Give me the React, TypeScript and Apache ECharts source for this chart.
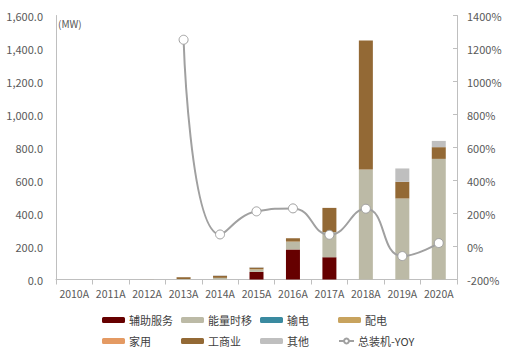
import React, { useEffect, useRef } from "react";
import * as echarts from "echarts";

const categories = ["2010A", "2011A", "2012A", "2013A", "2014A", "2015A", "2016A", "2017A", "2018A", "2019A", "2020A"];
const fuzhu = [0, 0, 0, 0, 0, 46, 182, 135, 0, 0, 0];
const nengliang = [0, 0, 0.5, 3, 10, 14, 46, 153, 667, 491, 731];
const shudian = [0, 0, 0, 0, 0, 0, 0, 0, 0, 0, 0];
const peidian = [0, 0, 0, 0, 0, 2, 2, 0, 0, 0, 0];
const jiayong = [0, 0, 0, 0, 0, 0, 0, 0, 0, 0, 0];
const gongshang = [0, 0, 0.3, 11, 12, 10, 20, 146, 781, 101, 71];
const qita = [0, 0, 0.3, 0.5, 3, 4, 0, 0, 0, 81, 38];
const yoy: (number | null)[] = [null, null, null, 1253, 73, 213, 231, 71, 229, -58, 21];
const leftTicks = { min: 0, max: 1600, interval: 200 };
const rightTicks = { min: -200, max: 1400, interval: 200 };

const FONT = "Noto Sans CJK SC";

export default function App() {
  const ref = useRef<HTMLDivElement>(null);
  useEffect(() => {
    document.body.style.margin = "0";
    const chart = echarts.init(ref.current!, null, { renderer: "svg" });
    const barSeries = [
      { name: "辅助服务", data: fuzhu, color: "#660000" },
      { name: "能量时移", data: nengliang, color: "#BCBAA6" },
      { name: "输电", data: shudian, color: "#3A8AA0" },
      { name: "配电", data: peidian, color: "#C8A35E" },
      { name: "家用", data: jiayong, color: "#E49A63" },
      { name: "工商业", data: gongshang, color: "#936935" },
      { name: "其他", data: qita, color: "#BFBFBF" },
    ].map((s) => ({
      name: s.name,
      type: "bar",
      stack: "total",
      barWidth: 14,
      data: s.data,
      itemStyle: { color: s.color },
      yAxisIndex: 0,
    }));
    const legendPos = [
      { name: "辅助服务", left: 102, top: 313 },
      { name: "能量时移", left: 181, top: 313 },
      { name: "输电", left: 260, top: 313 },
      { name: "配电", left: 338, top: 313 },
      { name: "家用", left: 102, top: 334 },
      { name: "工商业", left: 181, top: 334 },
      { name: "其他", left: 260, top: 334 },
      { name: "总装机-YOY", left: 338, top: 334 },
    ];
    chart.setOption({
      animation: false,
      textStyle: { fontFamily: FONT },
      grid: { left: 56, right: 51, top: 15.5, bottom: 71.5 },
      legend: legendPos.map((l) => ({
        data: [l.name],
        left: l.left,
        top: l.top,
        padding: 0,
        itemWidth: l.name === "总装机-YOY" ? 15 : 23,
        itemHeight: 6,
        itemGap: 4,
        textStyle: { fontFamily: FONT, fontSize: 11, color: "#404040", lineHeight: 14, padding: [0, 0, 0, -1] },
      })),
      xAxis: {
        type: "category",
        data: categories,
        axisLine: { lineStyle: { color: "#BFBFBF" } },
        axisTick: { show: true, length: 5, interval: 0, alignWithLabel: false, lineStyle: { color: "#BFBFBF" } },
        axisLabel: { color: "#595959", fontSize: 10.5, margin: 9, interval: 0, fontFamily: FONT },
      },
      yAxis: [
        {
          type: "value",
          ...leftTicks,
          position: "left",
          axisLine: { show: true, lineStyle: { color: "#BFBFBF" } },
          axisTick: { show: false },
          splitLine: { show: false },
          axisLabel: {
            color: "#595959",
            fontSize: 11,
            margin: 13,
            fontFamily: FONT,
            formatter: (v: number) => v.toLocaleString("en-US", { minimumFractionDigits: 1, maximumFractionDigits: 1 }),
          },
        },
        {
          type: "value",
          ...rightTicks,
          position: "right",
          axisLine: { show: true, lineStyle: { color: "#BFBFBF" } },
          axisTick: { show: true, length: 4, inside: true, lineStyle: { color: "#BFBFBF" } },
          splitLine: { show: false },
          axisLabel: { color: "#595959", fontSize: 11, margin: 10, fontFamily: FONT, formatter: (v: number) => v + "%" },
        },
      ],
      graphic: [
        { type: "text", left: 58, top: 18, style: { text: "(MW)", fill: "#595959", fontSize: 10, fontFamily: FONT } },
      ],
      series: [
        ...barSeries,
        {
          name: "总装机-YOY",
          type: "line",
          yAxisIndex: 1,
          data: yoy,
          smooth: 0.5,
          symbol: "circle",
          symbolSize: 9,
          showSymbol: true,
          lineStyle: { color: "#A0A0A0", width: 2 },
          itemStyle: { color: "#FFFFFF", borderColor: "#A0A0A0", borderWidth: 1 },
          z: 5,
        },
      ],
    });
    return () => chart.dispose();
  }, []);
  return <div ref={ref} style={{ width: 508, height: 351 }} />;
}
